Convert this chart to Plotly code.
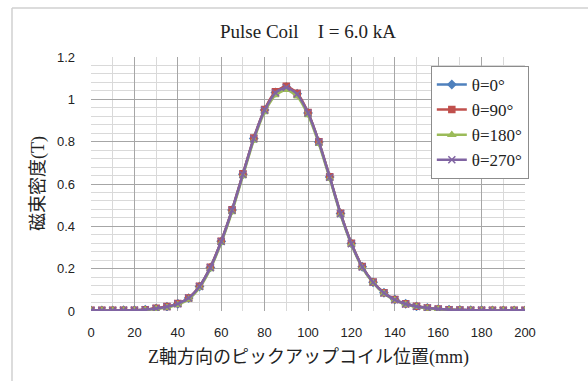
import plotly.graph_objects as go

z_mm = list(range(0, 205, 5))

b_theta0 = [0.003, 0.003, 0.003, 0.004, 0.004, 0.006, 0.012, 0.020, 0.034, 0.061,
            0.116, 0.206, 0.329, 0.477, 0.646, 0.815, 0.950, 1.032, 1.058, 1.026,
            0.936, 0.799, 0.633, 0.461, 0.319, 0.209, 0.136, 0.086, 0.054, 0.034,
            0.022, 0.014, 0.009, 0.006, 0.005, 0.004, 0.004, 0.003, 0.003, 0.003, 0.003]
b_theta90 = [0.003, 0.003, 0.003, 0.004, 0.004, 0.006, 0.013, 0.021, 0.035, 0.062,
             0.117, 0.207, 0.330, 0.478, 0.648, 0.817, 0.952, 1.036, 1.062, 1.029,
             0.938, 0.800, 0.634, 0.462, 0.320, 0.210, 0.137, 0.086, 0.054, 0.034,
             0.022, 0.014, 0.009, 0.006, 0.005, 0.004, 0.004, 0.003, 0.003, 0.003, 0.003]
b_theta180 = [0.002, 0.002, 0.002, 0.003, 0.003, 0.005, 0.010, 0.017, 0.030, 0.056,
              0.110, 0.199, 0.322, 0.468, 0.638, 0.806, 0.940, 1.020, 1.045, 1.014,
              0.926, 0.790, 0.626, 0.455, 0.314, 0.205, 0.133, 0.083, 0.051, 0.031,
              0.020, 0.012, 0.008, 0.005, 0.004, 0.003, 0.003, 0.002, 0.002, 0.002, 0.002]
b_theta270 = [0.003, 0.003, 0.003, 0.004, 0.004, 0.006, 0.012, 0.020, 0.034, 0.061,
              0.116, 0.205, 0.328, 0.476, 0.645, 0.814, 0.949, 1.031, 1.056, 1.025,
              0.935, 0.798, 0.632, 0.460, 0.318, 0.208, 0.136, 0.085, 0.053, 0.033,
              0.021, 0.014, 0.009, 0.006, 0.005, 0.004, 0.004, 0.003, 0.003, 0.003, 0.003]

series_names = ["θ=0°", "θ=90°", "θ=180°", "θ=270°"]
series_vals = [b_theta0, b_theta90, b_theta180, b_theta270]
colors = ["#4F81BD", "#C0504D", "#9BBB59", "#8064A2"]
symbols = ["diamond", "square", "triangle-up", "x-thin-open"]
msizes = [6, 6, 6, 7]

fig = go.Figure()
for name, vals, c, s, ms in zip(series_names, series_vals, colors, symbols, msizes):
    fig.add_trace(go.Scatter(
        x=z_mm, y=vals, name=name, mode="lines+markers",
        line=dict(color=c, width=2.5, shape="spline", smoothing=0.6),
        marker=dict(symbol=s, size=ms, color=c, line=dict(color=c, width=1.5)),
    ))

serif = "Liberation Serif"
jp = "Liberation Serif, Noto Sans CJK JP"
sans = "Liberation Sans"

fig.update_layout(
    width=588, height=381,
    margin=dict(l=91, r=63, t=57, b=70),
    paper_bgcolor="white", plot_bgcolor="white",
    showlegend=True,
    legend=dict(
        x=0.783, y=0.965, xanchor="left", yanchor="top",
        bgcolor="white", bordercolor="#8c8c8c", borderwidth=1,
        font=dict(family=serif, size=17, color="#222"),
        itemwidth=30, tracegroupgap=0,
    ),
    xaxis=dict(
        range=[0, 200], dtick=20, tick0=0,
        showgrid=True, gridcolor="#a6a6a6", gridwidth=1,
        minor=dict(dtick=10, showgrid=True, gridcolor="#d9d9d9", gridwidth=1),
        zeroline=False, showline=False,
        ticks="", ticklabelstandoff=12,
        tickfont=dict(family=sans, size=13, color="#222"),
    ),
    yaxis=dict(
        range=[0, 1.2], dtick=0.2, tick0=0,
        showgrid=True, gridcolor="#a6a6a6", gridwidth=1,
        minor=dict(dtick=0.04, showgrid=True, gridcolor="#d9d9d9", gridwidth=1),
        zeroline=False, showline=False,
        ticks="", ticklabelstandoff=15,
        tickformat="~g",
        tickfont=dict(family=sans, size=13, color="#222"),
    ),
    annotations=[
        dict(text="Pulse Coil&nbsp;&nbsp;&nbsp;&nbsp;I = 6.0 kA", xref="paper", yref="paper",
             x=0.5, y=1 + (57 - 32) / 254, xanchor="center", yanchor="middle",
             showarrow=False, font=dict(family=serif, size=19, color="#222")),
        dict(text="Z軸方向のピックアップコイル位置(mm)", xref="paper", yref="paper",
             x=0.5, y=-(357 - 311) / 254, xanchor="center", yanchor="middle",
             showarrow=False, font=dict(family=jp, size=18, color="#222")),
        dict(text="磁束密度(T)", xref="paper", yref="paper",
             x=-(91 - 38) / 434, y=0.5, xanchor="center", yanchor="middle",
             textangle=-90, showarrow=False, font=dict(family=jp, size=18, color="#222")),
    ],
    shapes=[
        dict(type="line", xref="paper", yref="paper",
             x0=(12 - 91) / 434, x1=(600 - 91) / 434,
             y0=1 + (57 - 8) / 254, y1=1 + (57 - 8) / 254,
             line=dict(color="#d0d0d0", width=1.5)),
        dict(type="line", xref="paper", yref="paper",
             x0=(12 - 91) / 434, x1=(12 - 91) / 434,
             y0=1 + (57 - 8) / 254, y1=-(400 - 311) / 254,
             line=dict(color="#d0d0d0", width=1.5)),
    ],
)

fig.write_html("out.html")
